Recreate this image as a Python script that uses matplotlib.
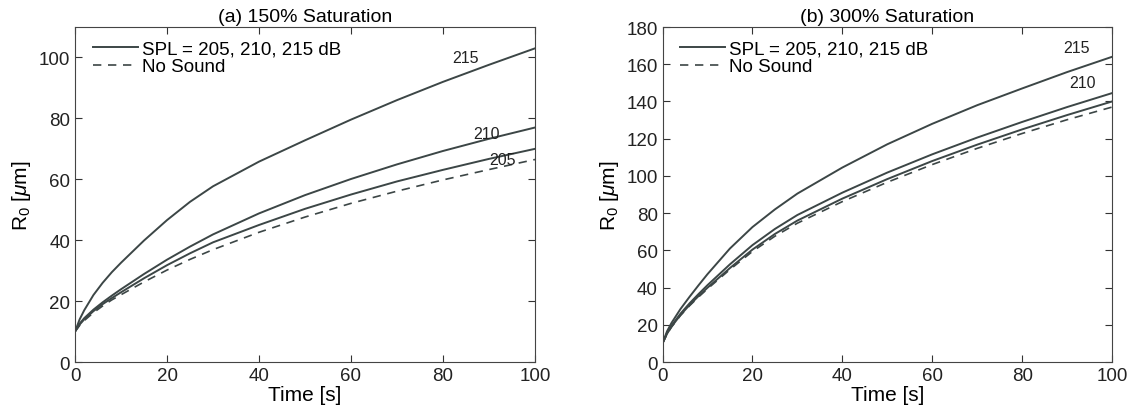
import matplotlib
matplotlib.use('Agg')
import matplotlib.pyplot as plt

plt.rcParams['font.family'] = ['Liberation Sans', 'DejaVu Sans']
plt.rcParams['mathtext.fontset'] = 'custom'
plt.rcParams['mathtext.rm'] = 'Liberation Sans'
plt.rcParams['mathtext.it'] = 'Liberation Sans:italic'

# tiempo [s]
t = [0, 1, 2, 4, 6, 8, 10, 15, 20, 25, 30, 40, 50, 60, 70, 80, 90, 100]

# (a) 150% saturacion
a_215 = [10, 14, 17, 22, 26, 29.5, 32.6, 39.9, 46.6, 52.6, 57.7, 65.8, 72.8, 79.6, 86, 92, 97.6, 103]
a_210 = [10, 12.6, 14.4, 17.2, 19.6, 21.8, 23.9, 28.9, 33.6, 37.9, 41.9, 48.8, 54.8, 60.1, 64.9, 69.3, 73.3, 77]
a_205 = [10, 12.3, 14, 16.7, 19, 21, 22.9, 27.5, 31.8, 35.7, 39.3, 45, 50.3, 55, 59.3, 63.1, 66.7, 70]
a_ns = [10, 12, 13.6, 16.2, 18.4, 20.4, 22.1, 26.3, 30.2, 33.7, 36.9, 42.6, 47.6, 52.1, 56.1, 59.8, 63.2, 66.5]

# (b) 300% saturacion
b_215 = [10, 16.5, 21, 28.5, 35, 41.2, 47.2, 61, 72.5, 82, 90.5, 104.5, 117, 128, 138, 147, 155.8, 164]
b_210 = [10, 15.5, 19.5, 26, 31.5, 36.5, 41.3, 52.5, 62.8, 71.5, 79, 91, 101.8, 111.6, 120.6, 129, 137, 144.5]
b_205 = [10, 15.2, 19, 25.3, 30.6, 35.4, 39.9, 50.5, 60.4, 68.8, 76, 87.8, 98.3, 108, 116.8, 125, 132.7, 140]
b_ns = [10, 15, 18.8, 25, 30.2, 34.9, 39.3, 49.7, 59.4, 67.6, 74.6, 86.2, 96.6, 106.1, 114.8, 122.8, 130.2, 137]

col = '#3c4646'
fig = plt.figure(figsize=(11.3, 4.1), dpi=100)
ax1 = fig.add_axes([0.0664, 0.1146, 0.407, 0.817])
ax2 = fig.add_axes([0.5863, 0.1146, 0.3978, 0.817])

paneles = [
    (ax1, a_215, a_210, a_205, a_ns, 110, range(0, 101, 20), '(a) 150% Saturation',
     [('215', 85, 97.5), ('210', 89.5, 72.5), ('205', 93, 64)]),
    (ax2, b_215, b_210, b_205, b_ns, 180, range(0, 181, 20), '(b) 300% Saturation',
     [('215', 92, 165), ('210', 93.5, 146)]),
]

for ax, s215, s210, s205, sns_, ytop, yt, titulo, etiquetas in paneles:
    ax.plot(t, s215, color=col, lw=1.4, label='SPL = 205, 210, 215 dB')
    ax.plot(t, s210, color=col, lw=1.4)
    ax.plot(t, s205, color=col, lw=1.4)
    ax.plot(t, sns_, color=col, lw=1.2, ls=(0, (5, 4)), label='No Sound')
    for txt, x, y in etiquetas:
        ax.text(x, y, txt, fontsize=11.5, color='#222222', ha='center', va='bottom')
    ax.set_xlim(0, 100)
    ax.set_ylim(0, ytop)
    ax.set_xticks(range(0, 101, 20))
    ax.set_yticks(list(yt))
    ax.tick_params(direction='in', top=True, right=True, labelsize=13.5, length=5,
                   colors='#333333', labelcolor='#222222')
    for sp in ax.spines.values():
        sp.set_color('#444444')
        sp.set_linewidth(0.8)
    ax.set_xlabel('Time [s]', fontsize=15, labelpad=1)
    ax.set_ylabel(r'R$_0$ [$\mu$m]', fontsize=15)
    ax.set_title(titulo, fontsize=14, pad=4)
    ax.legend(loc='upper left', frameon=False, fontsize=13.5, handlelength=2.4,
              handletextpad=0.2, labelspacing=0.05, borderaxespad=0.3,
              bbox_to_anchor=(0.01, 1.0))

fig.savefig('out.png', dpi=100)
